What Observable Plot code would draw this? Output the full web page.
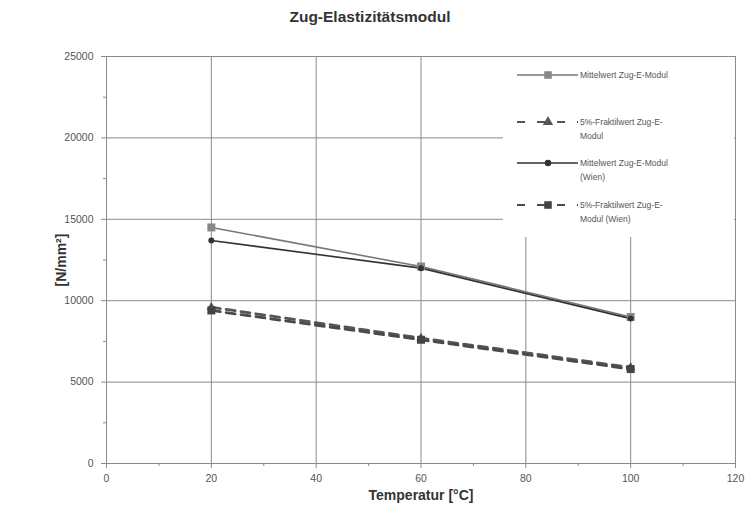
<!DOCTYPE html>
<html>
<head>
<meta charset="utf-8">
<script src="https://cdn.jsdelivr.net/npm/d3@7"></script>
<script src="https://cdn.jsdelivr.net/npm/@observablehq/plot@0.6"></script>
<style>
  html, body { margin: 0; padding: 0; background: #fff; }
  #wrap { position: relative; width: 747px; height: 516px; font-family: "Liberation Sans", Arial, sans-serif; }
  #title { position: absolute; left: 0; top: 8px; width: 740px; text-align: center; font-weight: bold; font-size: 15.5px; color: #333; }
  #chart { position: absolute; left: 0; top: 30px; }
  #legend { position: absolute; left: 0; top: 0; }
</style>
</head>
<body>
<div id="wrap">
  <div id="title">Zug-Elastizitätsmodul</div>
  <div id="chart"></div>
  <svg id="legend" width="747" height="516"></svg>
</div>
<script>
// ---- data ----
const temps = [20, 60, 100];
const mittel = [14500, 12100, 9000];
const fraktil = [9600, 7700, 5900];
const mittelWien = [13700, 12000, 8900];
const fraktilWien = [9400, 7600, 5800];
const seriesNames = [
  "Mittelwert Zug-E-Modul",
  "5%-Fraktilwert Zug-E-Modul",
  "Mittelwert Zug-E-Modul (Wien)",
  "5%-Fraktilwert Zug-E-Modul (Wien)"
];
const legendLines = [
  ["Mittelwert Zug-E-Modul"],
  ["5%-Fraktilwert Zug-E-", "Modul"],
  ["Mittelwert Zug-E-Modul", "(Wien)"],
  ["5%-Fraktilwert Zug-E-", "Modul (Wien)"]
];
const xTicks = [0, 20, 40, 60, 80, 100, 120];
const xMinor = [10, 30, 50, 70, 90, 110];
const yTicks = [0, 5000, 10000, 15000, 20000, 25000];
const yMinor = [2500, 7500, 12500, 17500, 22500];

const seriesValues = [mittel, fraktil, mittelWien, fraktilWien];
const styles = [
  {stroke: "#777", width: 1.6, dash: null, symbol: "square", r: 4.5, fill: "#888"},
  {stroke: "#555", width: 2.8, dash: "9,6", symbol: "triangle", r: 3.5, fill: "#555"},
  {stroke: "#333", width: 1.6, dash: null, symbol: "circle", r: 3, fill: "#333"},
  {stroke: "#4a4a4a", width: 2.8, dash: "9,6", symbol: "square", r: 4.5, fill: "#444"}
];
const rows = [];
seriesValues.forEach((vals, i) => temps.forEach((t, j) => rows.push({series: seriesNames[i], idx: i, t, v: vals[j]})));

const gridColor = "#8a8a8a";
const marks = [
  Plot.gridY(yTicks.slice(1, -1), {stroke: gridColor, strokeOpacity: 1, strokeWidth: 1}),
  Plot.gridX(xTicks.slice(1, -1), {stroke: gridColor, strokeOpacity: 1, strokeWidth: 1}),
  Plot.frame({stroke: gridColor, strokeWidth: 1}),
  Plot.axisY(yTicks, {tickSize: 5, tickPadding: 8, fontSize: 10.5, color: "#555", stroke: gridColor, tickFormat: d => String(d),
    label: "[N/mm²]", labelAnchor: "center", labelArrow: "none", labelOffset: 50}),
  Plot.axisY(yMinor, {tickSize: 3, tickFormat: () => "", label: null, stroke: gridColor}),
  Plot.axisX(xTicks, {tickSize: 5, tickPadding: 6, fontSize: 10.5, color: "#555", stroke: gridColor, tickFormat: d => String(d),
    label: "Temperatur [°C]", labelAnchor: "center", labelArrow: "none", labelOffset: 36}),
  Plot.axisX(xMinor, {tickSize: 3, tickFormat: () => "", label: null, stroke: gridColor})
];
styles.forEach((s, i) => {
  const data = rows.filter(d => d.idx === i);
  marks.push(Plot.line(data, {x: "t", y: "v", stroke: s.stroke, strokeWidth: s.width, strokeDasharray: s.dash}));
});
[1, 0, 3, 2].forEach(i => {
  const s = styles[i];
  const data = rows.filter(d => d.idx === i);
  marks.push(Plot.dot(data, {x: "t", y: "v", symbol: () => s.symbol, r: s.r, fill: s.fill, stroke: "none"}));
});

const chart = Plot.plot({
  width: 747,
  height: 486,
  marginLeft: 106,
  marginRight: 12,
  marginTop: 26,
  marginBottom: 53,
  style: {fontFamily: "Liberation Sans, Arial, sans-serif", background: "#fff"},
  x: {domain: [0, 120]},
  y: {domain: [0, 25000]},
  marks
});
chart.querySelectorAll("[aria-label='y-axis label'] text, [aria-label='x-axis label'] text").forEach(t => {
  t.setAttribute("font-weight", "bold");
  t.setAttribute("font-size", "14");
  t.setAttribute("fill", "#333");
});
document.getElementById("chart").appendChild(chart);

// ---- legend ----
const lg = d3.select("#legend");
lg.append("rect").attr("x", 503).attr("y", 57).attr("width", 231).attr("height", 180).attr("fill", "#fff");
const rowY = [75, 122, 163, 205];
const symMap = {square: d3.symbolSquare, triangle: d3.symbolTriangle, circle: d3.symbolCircle};
styles.forEach((s, i) => {
  const y = rowY[i];
  lg.append("line").attr("x1", 517).attr("x2", 578).attr("y1", y).attr("y2", y)
    .attr("stroke", s.stroke).attr("stroke-width", s.dash ? 2 : 1.3).attr("stroke-dasharray", s.dash ? "8,12" : null);
  const size = Math.PI * s.r * s.r * (s.symbol === "square" ? 0.9 : 1.2);
  lg.append("path").attr("d", d3.symbol(symMap[s.symbol], size)()).attr("transform", `translate(548,${y})`).attr("fill", s.fill);
  legendLines[i].forEach((txt, k) => {
    lg.append("text").attr("x", 580).attr("y", y + 3 + k * 14).attr("font-size", 8.5).attr("fill", "#555")
      .attr("font-family", "Liberation Sans, Arial, sans-serif").text(txt);
  });
});
</script>
</body>
</html>
